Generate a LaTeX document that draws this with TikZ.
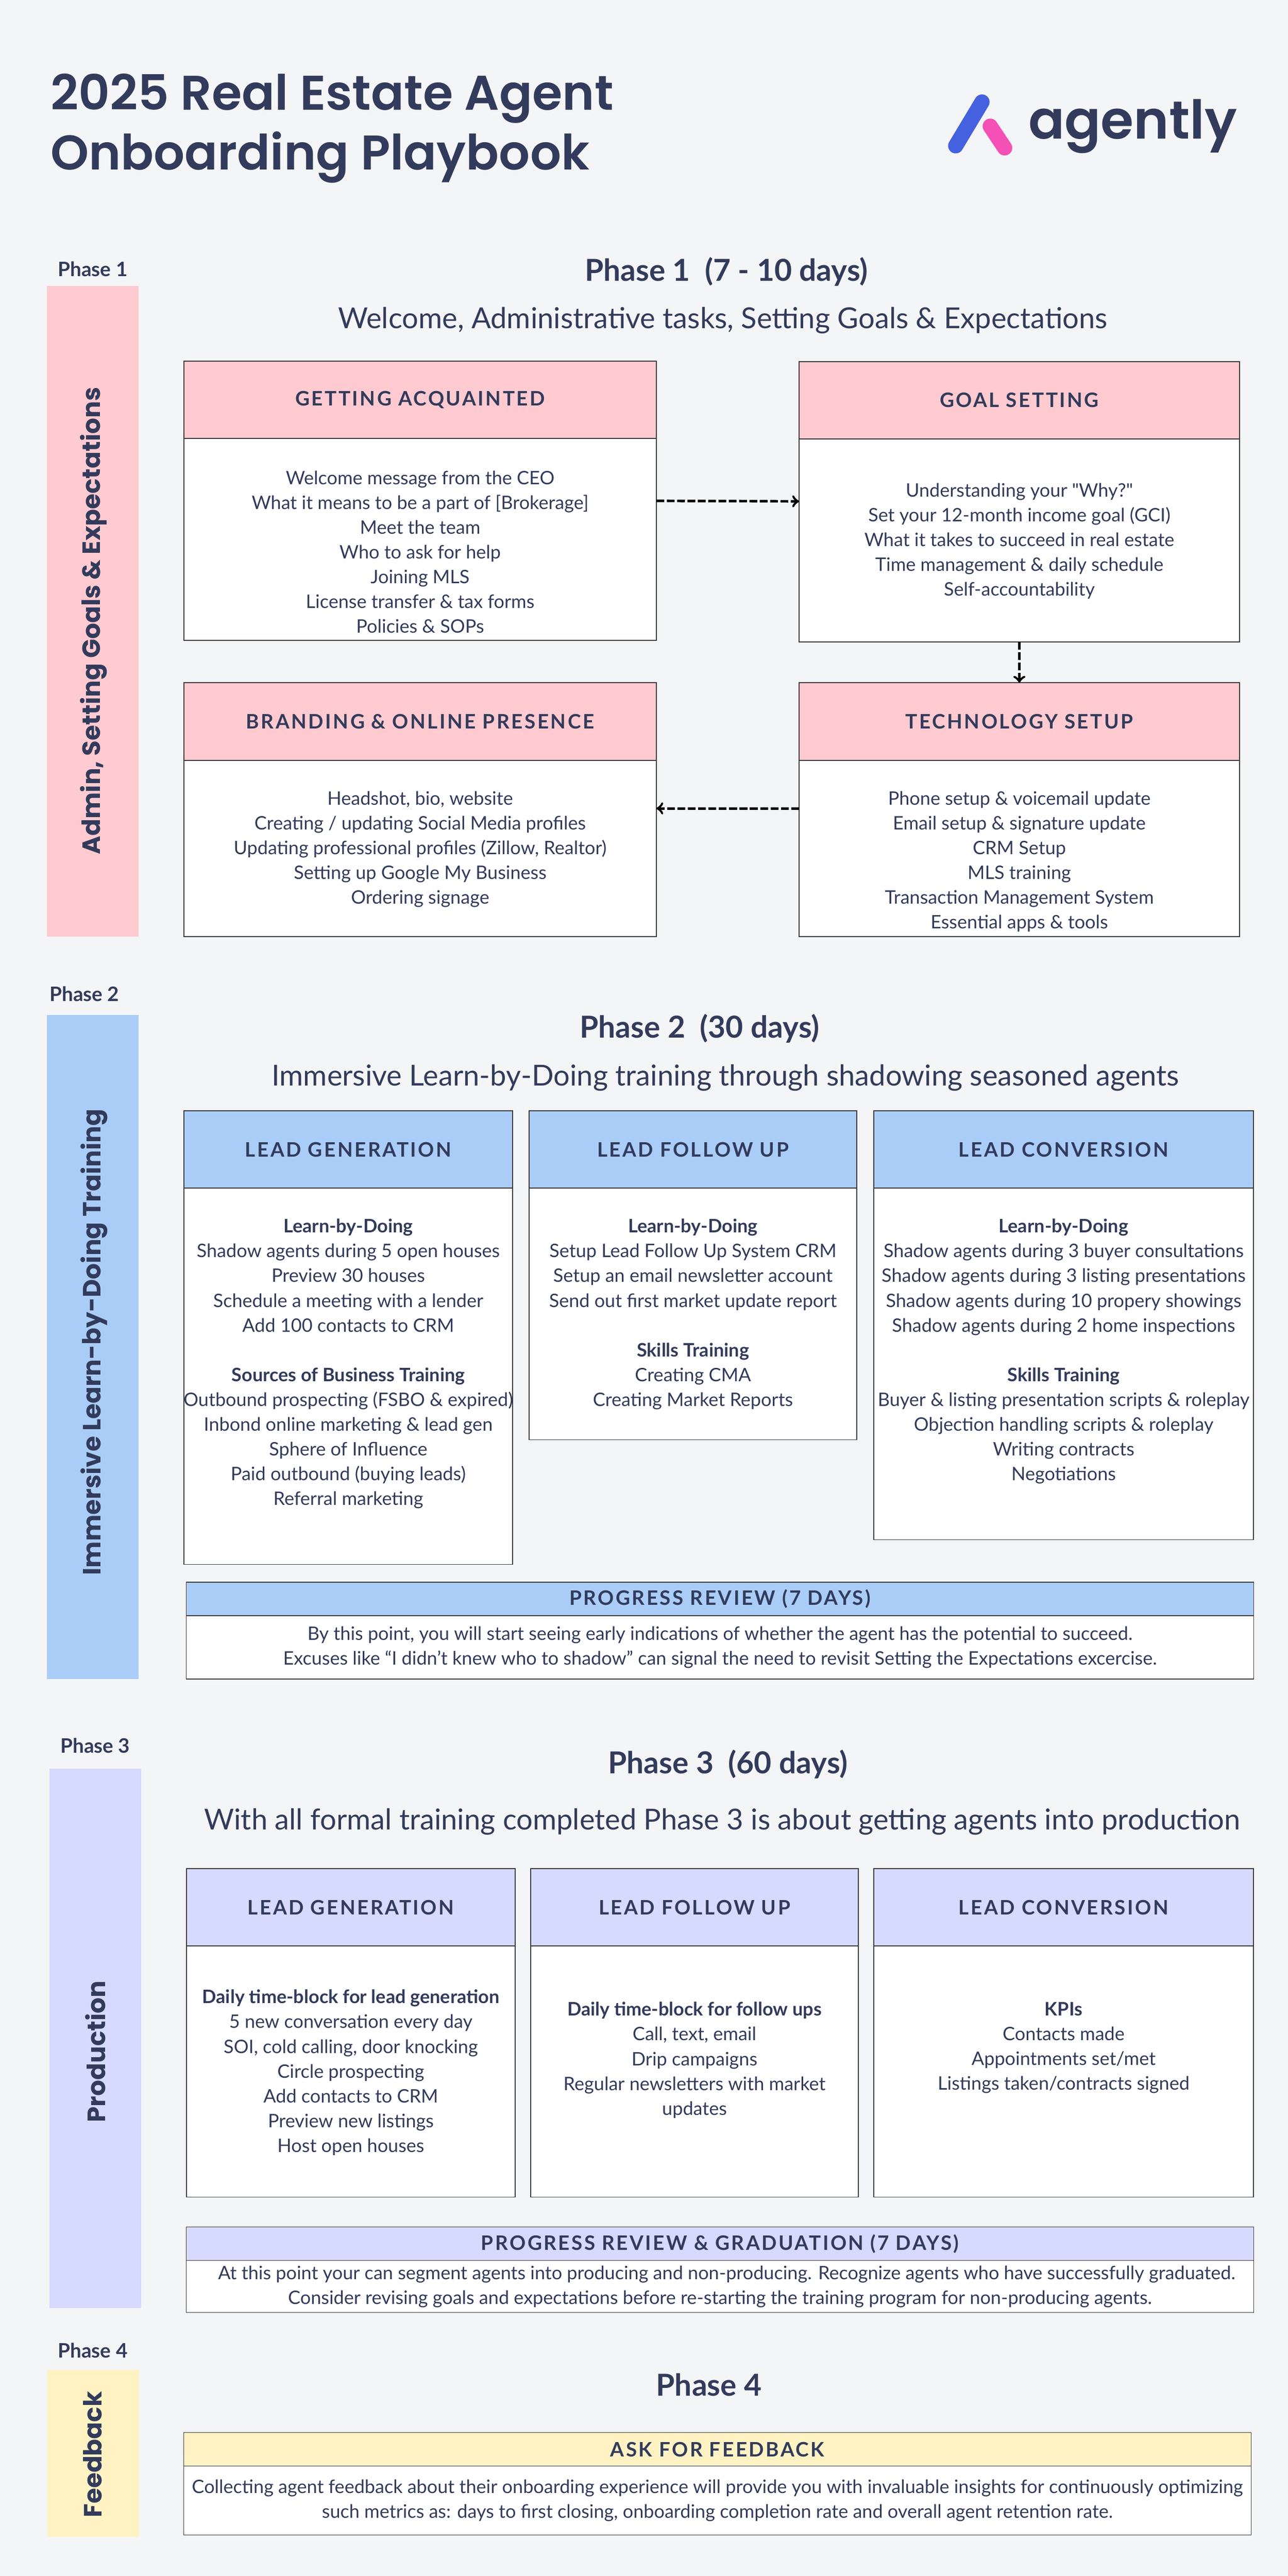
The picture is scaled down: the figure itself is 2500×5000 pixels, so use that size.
\documentclass[tikz,border=0pt]{standalone}
\usepackage{fontspec}
\usepackage{tikz}
\usetikzlibrary{arrows,positioning}
\usepackage{xcolor}
\setmainfont{Lato}
\newfontfamily\plainfont{Lato}
\newfontfamily\capsfont[LetterSpace=9]{Lato}
\newfontfamily\wideFont{Poppins}
\newfontfamily\semiFont[BoldFont={Poppins SemiBold}]{Poppins}
\definecolor{pagec}{HTML}{F4F5F7}
\definecolor{inkc}{HTML}{323B5B}
\definecolor{linec}{HTML}{3A3A3A}
\definecolor{pinkc}{HTML}{FFCAD0}
\definecolor{bluec}{HTML}{AACDF7}
\definecolor{lavc}{HTML}{D6DAFF}
\definecolor{yelc}{HTML}{FFF3C4}
\definecolor{logoblue}{HTML}{4661E0}
\definecolor{logopink}{HTML}{F450B5}

\begin{document}
\begin{tikzpicture}[x=.01cm,y=-.01cm,text=inkc,inner sep=0pt,outer sep=0pt,
    head/.style={rectangle,draw=linec,line width=.45pt,font=\capsfont\bfseries\fontsize{11}{13}\selectfont},
    slimhead/.style={head,minimum height=.65cm},
    body/.style={rectangle,draw=linec,line width=.45pt,fill=white,align=center,font=\fontsize{10.25}{13.66}\selectfont},
    items/.style={align=center,font=\fontsize{10.25}{13.66}\selectfont},
    bar/.style={rectangle,minimum width=1.78cm},
    bartext/.style={rotate=90,font=\wideFont\bfseries\fontsize{13.8}{17}\selectfont},
    tag/.style={font=\bfseries\fontsize{11}{13}\selectfont},
    phase/.style={font=\bfseries\fontsize{16.7}{19}\selectfont},
    sub/.style={font=\fontsize{15.95}{18}\selectfont},
    flow/.style={->,>=to,dashed,black,line width=1.4pt,dash pattern=on 4.3pt off 1.4pt}]
    \fill[pagec] (0,0) rectangle (2500,5000);
    \useasboundingbox (0,0) rectangle (2500,5000);

    % title and logo
    \node(title)[anchor=north west,align=left,font=\semiFont\bfseries\fontsize{26.85}{33}\selectfont] at (98,143) {2025 Real Estate Agent\\Onboarding Playbook};
    \draw[logoblue,line width=8.4pt,line cap=round] (1906,198)--(1855,283);
    \draw[logopink,line width=8.4pt,line cap=round] (1922,245)--(1950,287);
    \node(logo)[anchor=base west,font=\semiFont\bfseries\fontsize{29.5}{34}\selectfont] at (1996,270) {agently};

    % phase 1
    \node(tagone)[tag] at (180,522) {Phase 1};
    \node(adminbar)[bar,fill=pinkc,minimum height=12.63cm] at (180,1186.5) {};
    \node(admintext)[bartext] at (182,1205) {Admin, Setting Goals \& Expectations};
    \node(phaseone)[phase] at (1410,527) {Phase 1\ \ (7 - 10 days)};
    \node(subone)[sub] at (1403,622) {Welcome, Administrative tasks, Setting Goals \& Expectations};

    \node(gahead)[head,fill=pinkc,minimum width=9.17cm,minimum height=1.5cm] at (815.5,776) {GETTING ACQUAINTED};
    \node(gabody)[body,below=0pt of gahead,minimum width=9.17cm,minimum height=3.92cm] {};
    \node(gatext)[items,below=.63cm of gahead] {Welcome message from the CEO\\What it means to be a part of [Brokerage]\\Meet the team\\Who to ask for help\\Joining MLS\\License transfer \& tax forms\\Policies \& SOPs};
    \node(gshead)[head,fill=pinkc,minimum width=8.55cm,minimum height=1.5cm] at (1978.5,777) {GOAL SETTING};
    \node(gsbody)[body,below=0pt of gshead,minimum width=8.55cm,minimum height=3.94cm] {};
    \node(gstext)[items,below=.86cm of gshead] {Understanding your {\plainfont"Why?"}\\Set your 12-month income goal (GCI)\\What it takes to succeed in real estate\\Time management \& daily schedule\\Self-accountability};
    \node(brhead)[head,fill=pinkc,minimum width=9.17cm,minimum height=1.51cm] at (815.5,1400.5) {BRANDING \& ONLINE PRESENCE};
    \node(brbody)[body,below=0pt of brhead,minimum width=9.17cm,minimum height=3.42cm] {};
    \node(brtext)[items,below=.6cm of brhead] {Headshot, bio, website\\Creating / updating Social Media profiles\\Updating professional profiles (Zillow, Realtor)\\Setting up Google My Business\\Ordering signage};
    \node(tchead)[head,fill=pinkc,minimum width=8.55cm,minimum height=1.51cm] at (1978.5,1400.5) {TECHNOLOGY SETUP};
    \node(tcbody)[body,below=0pt of tchead,minimum width=8.55cm,minimum height=3.42cm] {};
    \node(tctext)[items,below=.6cm of tchead] {Phone setup \& voicemail update\\Email setup \& signature update\\CRM Setup\\MLS training\\Transaction Management System\\Essential apps \& tools};
    \draw[flow] ([yshift=.75cm]gabody.east)--([yshift=.76cm]gsbody.west);
    \draw[flow] (gsbody.south)--(tchead.north);
    \draw[flow] ([yshift=.78cm]tcbody.west)--([yshift=.78cm]brbody.east);

    % phase 2
    \node(tagtwo)[tag] at (164,1929) {Phase 2};
    \node(learnbar)[bar,fill=bluec,minimum height=12.89cm] at (180,2614.5) {};
    \node(learntext)[bartext] at (183,2605) {Immersive Learn-by-Doing Training};
    \node(phasetwo)[phase] at (1358,1996) {Phase 2\ \ (30 days)};
    \node(subtwo)[sub] at (1408,2092) {Immersive Learn-by-Doing training through shadowing seasoned agents};

    \node(lgahead)[head,fill=bluec,minimum width=6.38cm,minimum height=1.5cm] at (676,2231) {LEAD GENERATION};
    \node(lgabody)[body,below=0pt of lgahead,minimum width=6.38cm,minimum height=7.3cm] {};
    \node(lgatext)[items,below=.6cm of lgahead] {\textbf{Learn-by-Doing}\\Shadow agents during 5 open houses\\Preview 30 houses\\Schedule a meeting with a lender\\Add 100 contacts to CRM\\[13.66pt]\textbf{Sources of Business Training}\\Outbound prospecting (FSBO \& expired)\\Inbond online marketing \& lead gen\\Sphere of Influence\\Paid outbound (buying leads)\\Referral marketing};
    \node(lfahead)[head,fill=bluec,minimum width=6.36cm,minimum height=1.5cm] at (1345,2231) {LEAD FOLLOW UP};
    \node(lfabody)[body,below=0pt of lfahead,minimum width=6.36cm,minimum height=4.88cm] {};
    \node(lfatext)[items,below=.6cm of lfahead] {\textbf{Learn-by-Doing}\\Setup Lead Follow Up System CRM\\Setup an email newsletter account\\Send out first market update report\\[13.66pt]\textbf{Skills Training}\\Creating CMA\\Creating Market Reports};
    \node(lcahead)[head,fill=bluec,minimum width=7.37cm,minimum height=1.5cm] at (2064.5,2231) {LEAD CONVERSION};
    \node(lcabody)[body,below=0pt of lcahead,minimum width=7.37cm,minimum height=6.82cm] {};
    \node(lcatext)[items,below=.6cm of lcahead] {\textbf{Learn-by-Doing}\\Shadow agents during 3 buyer consultations\\Shadow agents during 3 listing presentations\\Shadow agents during 10 propery showings\\Shadow agents during 2 home inspections\\[13.66pt]\textbf{Skills Training}\\Buyer \& listing presentation scripts \& roleplay\\Objection handling scripts \& roleplay\\Writing contracts\\Negotiations};
    \node(prhead)[slimhead,fill=bluec,minimum width=20.71cm] at (1397.5,3103.5) {PROGRESS REVIEW (7 DAYS)};
    \node(prbody)[body,below=0pt of prhead,minimum width=20.71cm,minimum height=1.23cm] {By this point, you will start seeing early indications of whether the agent has the potential to succeed.\\Excuses like “I didn’t knew who to shadow” can signal the need to revisit Setting the Expectations excercise.};

    % phase 3
    \node(tagthree)[tag] at (185,3388) {Phase 3};
    \node(prodbar)[bar,fill=lavc,minimum height=10.47cm] at (185,3956.5) {};
    \node(prodtext)[bartext] at (185,3982) {Production};
    \node(phasethree)[phase] at (1413,3424) {Phase 3\ \ (60 days)};
    \node(subthree)[sub] at (1402,3536) {With all formal training completed Phase 3 is about getting agents into production};

    \node(lgbhead)[head,fill=lavc,minimum width=6.38cm,minimum height=1.5cm] at (681,3702) {LEAD GENERATION};
    \node(lgbbody)[body,below=0pt of lgbhead,minimum width=6.38cm,minimum height=4.87cm] {};
    \node(lgbtext)[items,below=.85cm of lgbhead] {\textbf{Daily time-block for lead generation}\\5 new conversation every day\\SOI, cold calling, door knocking\\Circle prospecting\\Add contacts to CRM\\Preview new listings\\Host open houses};
    \node(lfbhead)[head,fill=lavc,minimum width=6.36cm,minimum height=1.5cm] at (1348,3702) {LEAD FOLLOW UP};
    \node(lfbbody)[body,below=0pt of lfbhead,minimum width=6.36cm,minimum height=4.87cm] {};
    \node(lfbtext)[items,below=1.09cm of lfbhead] {\textbf{Daily time-block for follow ups}\\Call, text, email\\Drip campaigns\\Regular newsletters with market\\updates};
    \node(lcbhead)[head,fill=lavc,minimum width=7.37cm,minimum height=1.5cm] at (2064.5,3702) {LEAD CONVERSION};
    \node(lcbbody)[body,below=0pt of lcbhead,minimum width=7.37cm,minimum height=4.87cm] {};
    \node(lcbtext)[items,below=1.09cm of lcbhead] {\textbf{KPIs}\\Contacts made\\Appointments set/met\\Listings taken/contracts signed};
    \node(grhead)[slimhead,fill=lavc,minimum width=20.71cm] at (1397.5,4355) {PROGRESS REVIEW \& GRADUATION (7 DAYS)};
    \node(grbody)[body,below=0pt of grhead,minimum width=20.71cm,minimum height=1.01cm] {\hspace*{.26cm}At this point your can segment agents into producing and non-producing. Recognize agents who have successfully graduated.\\Consider revising goals and expectations before re-starting the training program for non-producing agents.};

    % phase 4
    \node(tagfour)[tag] at (180,4562) {Phase 4};
    \node(feedbar)[bar,fill=yelc,minimum height=3.24cm] at (181,4762) {};
    \node(feedtext)[bartext] at (180,4764) {Feedback};
    \node(phasefour)[phase] at (1376,4629) {Phase 4};
    \node(askhead)[slimhead,fill=yelc,minimum width=20.71cm] at (1392.5,4754) {ASK FOR FEEDBACK};
    \node(askbody)[body,below=0pt of askhead,minimum width=20.71cm,minimum height=1.34cm] {Collecting agent feedback about their onboarding experience will provide you with invaluable insights for continuously optimizing\\such metrics as: days to first closing, onboarding completion rate and overall agent retention rate.};
    \end{tikzpicture}
\end{document}
